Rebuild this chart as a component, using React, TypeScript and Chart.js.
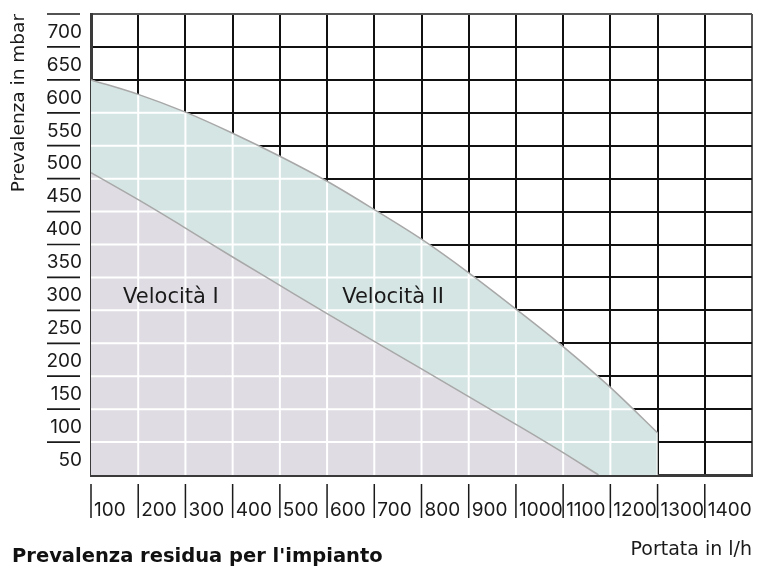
import React, { useEffect, useRef } from 'react';
import { Chart, registerables } from 'chart.js';

Chart.register(...registerables);

// ---- data ----
const flowSpeedI = [100, 200, 300, 400, 500, 600, 700, 800, 900, 1000, 1100, 1175];
const headSpeedI = [459, 418, 375, 331, 288, 245, 203, 161, 119, 77, 34, 0];

const flowSpeedII = [100, 200, 300, 400, 500, 600, 700, 800, 900, 1000, 1100, 1200, 1300];
const headSpeedII = [600, 578, 551, 519, 484, 446, 403, 358, 307, 252, 195, 133, 64];

const zoneNames = ['Velocità I', 'Velocità II'];
const zoneLabelFlow = [168, 632];
const zoneLabelHead = [270, 270];

const X_MIN = 100;
const X_MAX = 1500;
const X_STEP = 100;
const Y_MIN = 0;
const Y_MAX = 700;
const Y_STEP = 50;

const TITLE = "Prevalenza residua per l'impianto";
const X_TITLE = 'Portata in l/h';
const Y_TITLE = 'Prevalenza in mbar';

const TEXT = '#1a1a1a';
const FILL_I = '#dfdce3';
const FILL_II = '#d5e5e3';
const CURVE = '#a8a8a8';
const TICK_FONT = 'Inter';
const TEXT_FONT = 'DejaVu Sans';

const zeroPadding = (s: any) => {
  s.paddingTop = 0;
  s.paddingBottom = 0;
  s.paddingLeft = 0;
  s.paddingRight = 0;
};

const whiteGridPlugin = {
  id: 'whiteGrid',
  beforeDatasetsDraw(chart: any) {
    const meta = chart.getDatasetMeta(1);
    const line = meta.dataset;
    const pts = meta.data;
    if (!line || !pts.length) return;
    const a = chart.chartArea;
    const ctx = chart.ctx;
    line.updateControlPoints(a, 'x');
    ctx.save();
    ctx.beginPath();
    line.path(ctx);
    ctx.lineTo(pts[pts.length - 1].x, a.bottom);
    ctx.lineTo(pts[0].x, a.bottom);
    ctx.closePath();
    ctx.clip();
    ctx.strokeStyle = '#ffffff';
    ctx.lineWidth = 2;
    const xs = chart.scales.x;
    const ys = chart.scales.y;
    ctx.beginPath();
    xs.ticks.forEach((t: any) => {
      if (t.value <= X_MIN) return;
      const px = xs.getPixelForValue(t.value);
      ctx.moveTo(px, a.top);
      ctx.lineTo(px, a.bottom);
    });
    ys.ticks.forEach((t: any) => {
      if (t.value <= Y_MIN) return;
      const py = ys.getPixelForValue(t.value);
      ctx.moveTo(a.left, py);
      ctx.lineTo(a.right, py);
    });
    ctx.stroke();
    ctx.restore();
  },
};

const zoneLabelPlugin = {
  id: 'zoneLabels',
  afterDatasetsDraw(chart: any) {
    const ctx = chart.ctx;
    const xs = chart.scales.x;
    const ys = chart.scales.y;
    ctx.save();
    ctx.font = `21px "${TEXT_FONT}"`;
    ctx.fillStyle = TEXT;
    ctx.textAlign = 'left';
    ctx.textBaseline = 'middle';
    zoneNames.forEach((name, i) => {
      ctx.fillText(name, xs.getPixelForValue(zoneLabelFlow[i]), ys.getPixelForValue(zoneLabelHead[i]));
    });
    ctx.restore();
  },
};

const tickMarkPlugin = {
  id: 'tickMarks',
  afterDraw(chart: any) {
    const ctx = chart.ctx;
    const a = chart.chartArea;
    const xs = chart.scales.x;
    const ys = chart.scales.y;
    ctx.save();
    ctx.strokeStyle = '#1a1a1a';
    ctx.lineWidth = 1.5;
    ctx.beginPath();
    xs.ticks.forEach((t: any) => {
      if (t.value >= X_MAX) return;
      const px = xs.getPixelForValue(t.value);
      ctx.moveTo(px, a.bottom + 9);
      ctx.lineTo(px, a.bottom + 43);
    });
    ctx.stroke();
    ctx.lineWidth = 1.7;
    ctx.beginPath();
    ys.ticks.forEach((t: any) => {
      if (t.value <= Y_MIN) return;
      const py = ys.getPixelForValue(t.value);
      ctx.moveTo(a.left - 44, py);
      ctx.lineTo(a.left - 11, py);
    });
    ctx.stroke();
    ctx.restore();
  },
};

export default function App() {
  const ref = useRef<HTMLCanvasElement>(null);

  useEffect(() => {
    if (!ref.current) return;
    const chart = new Chart(ref.current, {
      type: 'line',
      data: {
        datasets: [
          {
            label: zoneNames[0],
            data: flowSpeedI.map((x, i) => ({ x, y: headSpeedI[i] })),
            borderColor: CURVE,
            borderWidth: 1.5,
            backgroundColor: FILL_I,
            fill: 'start',
            pointRadius: 0,
            cubicInterpolationMode: 'monotone',
          },
          {
            label: zoneNames[1],
            data: flowSpeedII.map((x, i) => ({ x, y: headSpeedII[i] })),
            borderColor: CURVE,
            borderWidth: 1.5,
            backgroundColor: FILL_II,
            fill: 'start',
            pointRadius: 0,
            cubicInterpolationMode: 'monotone',
          },
        ],
      },
      options: {
        responsive: false,
        animation: false,
        events: [],
        layout: { padding: { left: 12, top: 14, right: 5, bottom: 8.3 } },
        plugins: {
          legend: { display: false },
          tooltip: { enabled: false },
          filler: { drawTime: 'beforeDatasetsDraw', propagate: false },
          title: {
            display: true,
            text: TITLE,
            position: 'bottom',
            align: 'start',
            color: '#111',
            font: { family: TEXT_FONT, size: 19.5, weight: 'bold', lineHeight: 1.2 },
            padding: { top: 0, bottom: 0 },
          },
        },
        scales: {
          x: {
            type: 'linear',
            min: X_MIN,
            max: X_MAX,
            afterFit: (s: any) => {
              s.height = 70.3;
              zeroPadding(s);
            },
            ticks: {
              stepSize: X_STEP,
              autoSkip: false,
              maxRotation: 0,
              align: 'start',
              labelOffset: 3,
              padding: 23.6,
              color: TEXT,
              font: { family: TICK_FONT, size: 19, lineHeight: 1.2 },
              callback: (v: any) => (v >= X_MAX ? '' : String(v)),
            },
            grid: {
              color: (c: any) => (c.tick && c.tick.value === X_MAX ? '#555' : '#111'),
              lineWidth: 2,
              drawTicks: false,
            },
            border: { color: '#3a3a3a', width: 3 },
            title: {
              display: true,
              text: X_TITLE,
              align: 'end',
              color: TEXT,
              font: { family: TEXT_FONT, size: 19, lineHeight: 1.2 },
              padding: { top: 0, bottom: -16.1 },
            },
          },
          y: {
            type: 'linear',
            min: Y_MIN,
            max: Y_MAX,
            afterFit: (s: any) => {
              s.width = 79;
              zeroPadding(s);
            },
            ticks: {
              stepSize: Y_STEP,
              autoSkip: false,
              labelOffset: 18,
              padding: 9,
              color: TEXT,
              font: { family: TICK_FONT, size: 19, lineHeight: 1.2 },
              callback: (v: any) => (v <= Y_MIN ? '' : String(v)),
            },
            grid: {
              color: (c: any) => (c.tick && c.tick.value === Y_MAX ? '#555' : '#111'),
              lineWidth: 2,
              drawTicks: false,
            },
            border: { color: '#3a3a3a', width: 3 },
            title: {
              display: true,
              text: Y_TITLE,
              align: 'end',
              color: TEXT,
              font: { family: TEXT_FONT, size: 18.5, lineHeight: 1.2 },
              padding: { top: -4.4, bottom: 0 },
            },
          },
        },
      },
      plugins: [whiteGridPlugin, zoneLabelPlugin, tickMarkPlugin],
    } as any);
    return () => chart.destroy();
  }, []);

  return (
    <div style={{ position: 'absolute', left: 0, top: 0, width: 757, height: 577, background: '#fff' }}>
      <canvas ref={ref} width={757} height={577} />
    </div>
  );
}
